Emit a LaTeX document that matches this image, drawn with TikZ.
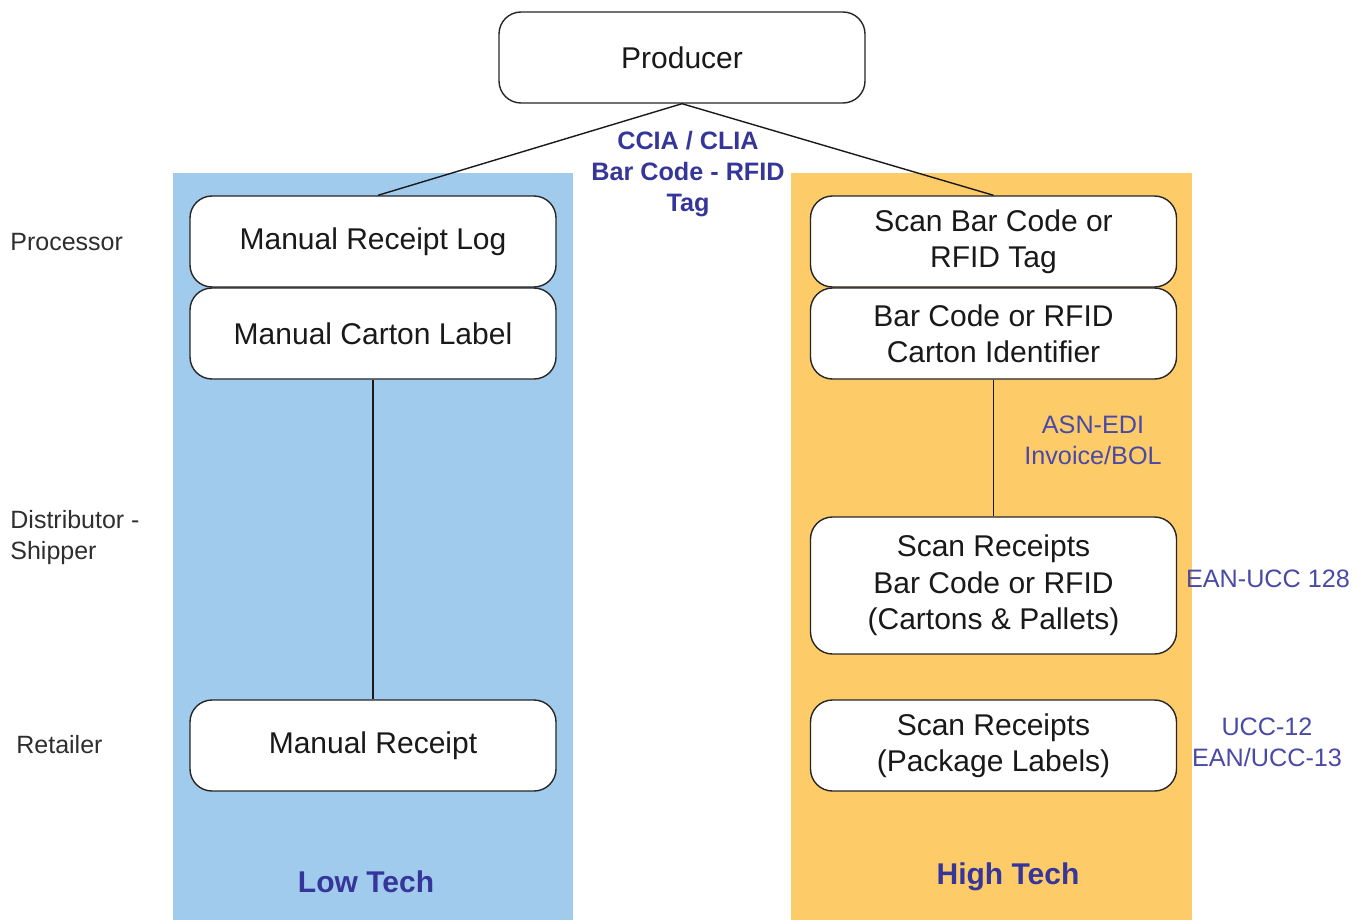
\documentclass[tikz,border=0pt]{standalone}
\usepackage{fontspec}
\setmainfont{Liberation Sans}
\usetikzlibrary{positioning}
\definecolor{lowblue}{HTML}{A0CBEC}
\definecolor{highgold}{HTML}{FDCC69}
\definecolor{tagblue}{HTML}{4A4AA6}
\definecolor{headblue}{HTML}{36369A}
\definecolor{rowgray}{HTML}{2E2E2E}
\tikzset{
  stepbox/.style={draw=black!85, line width=0.7pt, fill=white, rounded corners=11pt,
    minimum width=183pt, minimum height=45.5pt, align=center, inner sep=0pt,
    font=\fontsize{15}{18.2}\selectfont, text=black!90},
  rowlabel/.style={anchor=west, align=left, inner sep=0pt, text=rowgray,
    font=\fontsize{12.5}{15.5}\selectfont},
  stdlabel/.style={align=center, inner sep=0pt, text=tagblue,
    font=\fontsize{12.6}{15.5}\selectfont},
  bandtitle/.style={inner sep=0pt, text=headblue, font=\bfseries\fontsize{15}{18}\selectfont},
  link/.style={draw=black!90, line width=0.7pt}
}
\begin{document}
\begin{tikzpicture}[x=0.5pt, y=-0.5pt]
  \useasboundingbox (0,0) rectangle (1364,920);

  % technology bands
  \fill[lowblue] (173,173) rectangle (573,920);
  \fill[highgold] (791,173) rectangle (1192,920);

  % boxes
  \node[stepbox] (prod) at (682,57.5) {Producer};
  \node[stepbox] (mrl) at (373,241.5) {Manual Receipt Log};
  \node[stepbox] (mcl) at (373,333.5) {Manual Carton Label};
  \node[stepbox] (mr)  at (373,745.5) {Manual Receipt};
  \node[stepbox] (sbc) at (993.5,241.5) {Scan Bar Code or\\RFID Tag};
  \node[stepbox] (bcc) at (993.5,333.5) {Bar Code or RFID\\Carton Identifier};
  \node[stepbox, minimum height=68.5pt] (sr) at (993.5,585.5) {Scan Receipts\\Bar Code or RFID\\(Cartons \& Pallets)};
  \node[stepbox] (srp) at (993.5,745.5) {Scan Receipts\\(Package Labels)};

  % connectors
  \draw[link] (prod.south) -- ([xshift=2.5pt]mrl.north);
  \draw[link] (prod.south) -- (sbc.north);
  \draw[link] (mcl.south) -- (mr.north);
  \draw[link] (bcc.south) -- (sr.north);

  % standards labels
  \node[stdlabel, font=\bfseries\fontsize{12.6}{15.5}\selectfont, text=headblue] (ccia) at (688,174) {CCIA / CLIA\\Bar Code - RFID\\Tag};
  \node[stdlabel] (asn) at (1093,440.5) {ASN-EDI\\Invoice/BOL};
  \node[stdlabel] (ean) at (1268,579) {EAN-UCC 128};
  \node[stdlabel] (ucc) at (1267,742) {UCC-12\\EAN/UCC-13};

  % supply chain rows
  \node[rowlabel] (proc) at (10,242) {Processor};
  \node[rowlabel] (dist) at (10,537.5) {Distributor -\\Shipper};
  \node[rowlabel] (ret) at (16,745) {Retailer};

  % band titles
  \node[bandtitle] (low) at (366,882) {Low Tech};
  \node[bandtitle] (high) at (1008,877) {High Tech};
\end{tikzpicture}
\end{document}
